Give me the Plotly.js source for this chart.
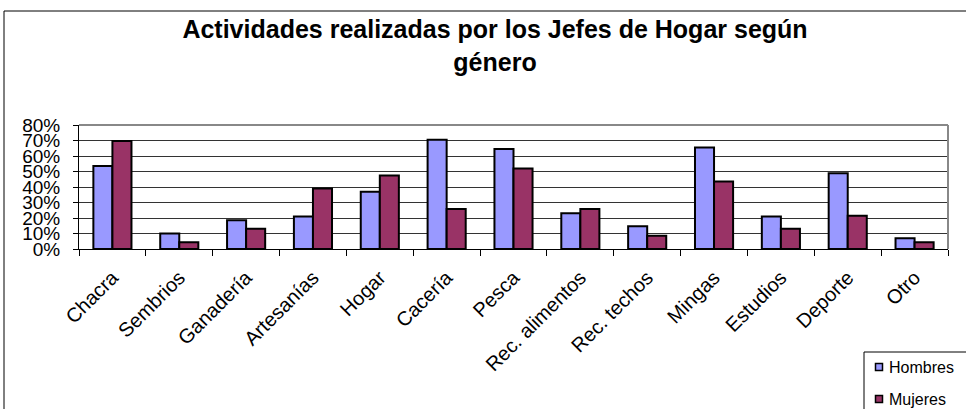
<!DOCTYPE html>
<html><head><meta charset="utf-8">
<script src="https://cdn.plot.ly/plotly-3.0.1.min.js"></script>
<style>html,body{margin:0;padding:0;background:#fff}#c{width:966px;height:409px}</style>
</head><body><div id="c"></div>
<script>
const categories = ["Chacra","Sembrios","Ganadería","Artesanías","Hogar","Cacería","Pesca","Rec. alimentos","Rec. techos","Mingas","Estudios","Deporte","Otro"];
const hombres = [0.535,0.10,0.185,0.21,0.37,0.705,0.645,0.23,0.147,0.655,0.21,0.488,0.07];
const mujeres = [0.697,0.043,0.13,0.39,0.475,0.258,0.52,0.258,0.085,0.435,0.13,0.215,0.043];
const seriesNames = ["Hombres","Mujeres"];
const seriesColors = ["#9999FF","#993366"];
const yTickVals = [0,0.1,0.2,0.3,0.4,0.5,0.6,0.7,0.8];
const yTickText = ["0%","10%","20%","30%","40%","50%","60%","70%","80%"];

const FONT = "Liberation Sans, Arial, sans-serif";
const data = [
  {type:"bar", name:seriesNames[0], x:categories, y:hombres,
   marker:{color:seriesColors[0], line:{color:"#000", width:2}}},
  {type:"bar", name:seriesNames[1], x:categories, y:mujeres,
   marker:{color:seriesColors[1], line:{color:"#000", width:2}}}
];
const W=966,H=409,L=79,R=18,T=125,B=160;
const pw=W-L-R, ph=H-T-B;
const px=v=>(v-L)/pw, py=v=>(H-B-v)/ph;

// legend drawn as shapes + annotations (keeps plot area fixed)
const legShapes = [
  {type:"rect", xref:"paper", yref:"paper", x0:px(864), x1:px(1000), y0:py(352), y1:py(440),
   line:{color:"#000",width:1}, fillcolor:"#fff"}
];
const legAnn = [];
const legY = [367, 399];
seriesNames.forEach((n,i)=>{
  legShapes.push({type:"rect", xref:"paper", yref:"paper", x0:px(875.5), x1:px(882.5),
    y0:py(legY[i]-3.5), y1:py(legY[i]+3.5), line:{color:"#000",width:1.5}, fillcolor:seriesColors[i]});
  legAnn.push({xref:"paper", yref:"paper", x:px(887), y:py(legY[i]), xanchor:"left", yanchor:"middle",
    text:n, showarrow:false, font:{family:FONT,size:16,color:"#000"}});
});

const layout = {
  width:W, height:H,
  margin:{l:L,r:R,t:T,b:B,pad:0},
  paper_bgcolor:"#fff", plot_bgcolor:"#fff",
  font:{family:FONT, color:"#000"},
  title:{text:"<b>Actividades realizadas por los Jefes de Hogar según<br>género</b>",
    font:{family:FONT,size:25,color:"#000"}, x:495/W, xanchor:"center",
    yref:"container", y:1-38/H, yanchor:"top"},
  barmode:"group", bargap:0.43, bargroupgap:0,
  showlegend:false,
  xaxis:{type:"category", tickson:"boundaries", ticks:"outside", ticklen:6, tickcolor:"#000",
    showline:true, linecolor:"#000", linewidth:1, tickangle:-45, ticklabelstandoff:8,
    tickfont:{family:FONT,size:20,color:"#000"}, showgrid:false},
  yaxis:{range:[0,0.8], tickvals:yTickVals, ticktext:yTickText, ticks:"outside", ticklen:5,
    tickcolor:"#000", showline:true, linecolor:"#000", linewidth:1, ticklabelstandoff:9,
    gridcolor:"#333", gridwidth:1, zeroline:false,
    tickfont:{family:FONT,size:19,color:"#000"}},
  shapes:[
    {type:"line", xref:"paper", yref:"paper", x0:0, x1:1, y0:1, y1:1, line:{color:"#888",width:2}},
    {type:"line", xref:"paper", yref:"paper", x0:1, x1:1, y0:0, y1:1, line:{color:"#888",width:2}},
    {type:"rect", xref:"paper", yref:"paper", x0:px(4), x1:px(1000), y0:py(11), y1:py(440),
     line:{color:"#000",width:1}, fillcolor:"rgba(0,0,0,0)", layer:"below"}
  ].concat(legShapes),
  annotations:legAnn
};
Plotly.newPlot("c", data, layout, {displayModeBar:false, staticPlot:true});
</script></body></html>
